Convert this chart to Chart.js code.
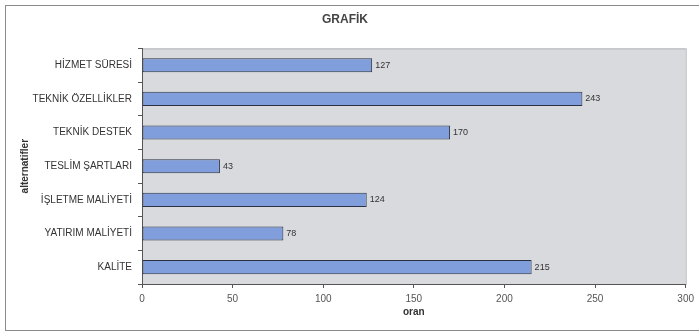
<!DOCTYPE html>
<html>
<head>
<meta charset="utf-8">
<script src="https://cdn.jsdelivr.net/npm/chart.js@4.4.0/dist/chart.umd.min.js"></script>
<style>
  html, body { margin: 0; padding: 0; background: #fff; }
  #wrap { position: relative; width: 699px; height: 336px; overflow: hidden; }
  #frame { position: absolute; left: 5px; top: 5px; width: 740px; height: 326px; border: 1px solid #8c8c8c; box-sizing: border-box; }
  #myChart { position: absolute; left: 0; top: 0; }
</style>
</head>
<body>
<div id="wrap">
  <div id="frame"></div>
  <canvas id="myChart" width="699" height="336"></canvas>
</div>
<script>
const categories = [
  "HİZMET SÜRESİ",
  "TEKNİK ÖZELLİKLER",
  "TEKNİK DESTEK",
  "TESLİM ŞARTLARI",
  "İŞLETME MALİYETİ",
  "YATIRIM MALİYETİ",
  "KALİTE",
];
const oran = [127, 243, 170, 43, 124, 78, 215];
const xTicks = [0, 50, 100, 150, 200, 250, 300];

const fontFamily = "Arial, 'Liberation Sans', sans-serif";

// gray plot background
const plotBg = {
  id: "plotBg",
  beforeDraw(chart) {
    const { ctx, chartArea: a } = chart;
    ctx.save();
    ctx.fillStyle = "#d9dadd";
    ctx.fillRect(a.left, a.top, a.right - a.left, a.bottom - a.top);
    ctx.strokeStyle = "#b4b4b8";
    ctx.lineWidth = 1;
    ctx.strokeRect(a.left + 0.5, a.top + 0.5, a.right - a.left, a.bottom - a.top);
    ctx.restore();
  },
};

// value written after each bar
const valueLabels = {
  id: "valueLabels",
  afterDatasetsDraw(chart) {
    const { ctx } = chart;
    const meta = chart.getDatasetMeta(0);
    ctx.save();
    ctx.font = "9px " + fontFamily;
    ctx.fillStyle = "#333";
    ctx.textAlign = "left";
    ctx.textBaseline = "middle";
    meta.data.forEach((bar, i) => {
      ctx.fillText(String(chart.data.datasets[0].data[i]), bar.x + 3, bar.y);
    });
    ctx.restore();
  },
};

const ctx = document.getElementById("myChart");

const myChart = new Chart(ctx, {
  type: "bar",
  data: {
    labels: categories,
    datasets: [
      {
        label: "oran",
        data: oran,
        backgroundColor: "#7f9edb",
        borderColor: "#2b3142",
        borderWidth: 1,
        borderSkipped: false,
        categoryPercentage: 1,
        barPercentage: 0.42,
      },
    ],
  },
  options: {
    indexAxis: "y",
    responsive: false,
    animation: false,
    layout: {
      padding: { left: 0, right: 9, top: 0, bottom: 0 },
    },
    plugins: {
      legend: false,
      tooltip: false,
      title: {
        display: true,
        text: "GRAFİK",
        color: "#444",
        font: { family: fontFamily, size: 12, weight: "bold" },
        padding: { top: 12, bottom: 22 },
      },
    },
    scales: {
      x: {
        min: 0,
        max: 300,
        afterBuildTicks(scale) {
          scale.ticks = xTicks.map((v) => ({ value: v }));
        },
        afterFit(scale) {
          scale.height = 52;
        },
        grid: { drawOnChartArea: false, tickLength: 4, color: "#555" },
        border: { color: "#555" },
        ticks: {
          color: "#555",
          padding: 5,
          maxRotation: 0,
          font: { family: fontFamily, size: 10 },
        },
        title: {
          display: true,
          text: "oran",
          color: "#333",
          font: { family: fontFamily, size: 10, weight: "bold" },
          padding: { top: 0, bottom: 18 },
        },
      },
      y: {
        afterFit(scale) {
          scale.width = 142;
        },
        grid: { drawOnChartArea: false, offset: true, tickLength: 4, color: "#555" },
        border: { color: "#555" },
        ticks: {
          color: "#333",
          padding: 6,
          font: { family: fontFamily, size: 10 },
        },
        title: {
          display: true,
          text: "alternatifler",
          color: "#333",
          font: { family: fontFamily, size: 10, weight: "bold" },
          padding: { top: 19, bottom: 0 },
        },
      },
    },
  },
  plugins: [plotBg, valueLabels],
});
</script>
</body>
</html>
